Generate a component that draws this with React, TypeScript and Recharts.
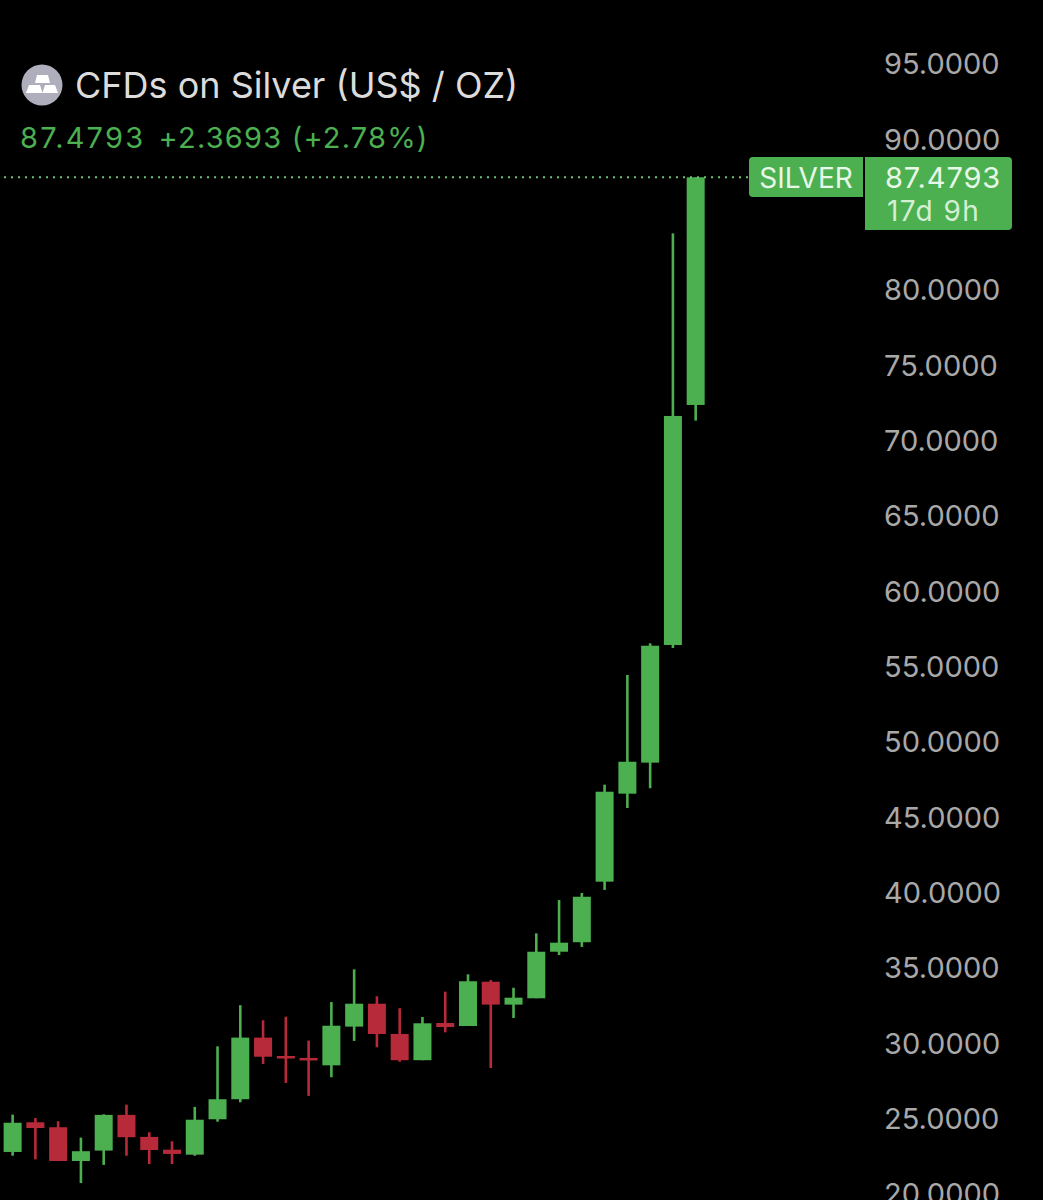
import React from "react"
import { Bar, ComposedChart, ReferenceLine, XAxis, YAxis } from "recharts"

const opens = [
  22.79, 24.76, 24.43, 22.19, 22.88, 25.25, 23.79, 22.94, 22.61, 24.96, 26.29, 30.38, 29.16, 29.03, 28.54, 31.11,
  32.63, 30.62, 28.88, 31.35, 31.15, 34.09, 32.57, 32.99, 36.08, 36.71, 40.73, 46.57, 48.63, 56.44, 72.37,
]
const closes = [
  24.73, 24.38, 22.19, 22.84, 25.25, 23.77, 22.92, 22.66, 24.93, 26.29, 30.38, 29.11, 29.09, 28.9, 31.17, 32.63,
  30.62, 28.88, 31.33, 31.08, 34.12, 32.57, 33.03, 36.08, 36.68, 39.73, 46.7, 48.69, 56.39, 71.64, 87.4793,
]
const highs = [
  25.27, 25.04, 24.83, 23.74, 25.29, 25.93, 24.1, 23.5, 25.78, 29.8, 32.53, 31.53, 31.77, 30.18, 32.74, 34.91,
  33.12, 32.33, 31.75, 33.43, 34.58, 34.2, 33.69, 37.3, 39.51, 39.98, 47.17, 54.45, 56.55, 83.76, 87.4793,
]
const lows = [
  22.54, 22.3, 22.19, 20.73, 21.93, 22.54, 21.99, 21.99, 22.54, 24.8, 26.09, 28.63, 27.37, 26.51, 27.75, 30.16,
  29.74, 28.78, 28.88, 30.73, 31.15, 28.36, 31.68, 32.99, 35.86, 36.4, 40.18, 45.62, 46.93, 56.24, 71.33,
]
const priceTicks = [20, 25, 30, 35, 40, 45, 50, 55, 60, 65, 70, 75, 80, 90, 95]
const lastPrice = 87.4793

const GREEN = "#4caf50"
const RED = "#b72a3a"

const candles = opens.map((open, i) => ({
  index: i,
  open,
  close: closes[i],
  range: [lows[i], highs[i]],
}))

const Candle = (props: any) => {
  const { x, y, width, height, payload } = props
  const [low, high] = payload.range
  const pxPerUnit = height / (high - low)
  const color = payload.close >= payload.open ? GREEN : RED
  const center = x + width / 2
  const bodyTop = y + (high - Math.max(payload.open, payload.close)) * pxPerUnit
  const bodyHeight = Math.max(Math.abs(payload.close - payload.open) * pxPerUnit, 2.5)
  return (
    <g>
      <rect x={center - 1.3} y={y} width={2.6} height={height} fill={color} />
      <rect x={x} y={bodyTop} width={width} height={bodyHeight} fill={color} />
    </g>
  )
}

const SilverIcon = () => (
  <svg width={42} height={42} style={{ position: "absolute", left: 21, top: 64 }}>
    <circle cx={21} cy={21} r={20.5} fill="#aeaebc" />
    <polygon points="16,11 27,11 29,19 14,19" fill="#fff" />
    <polygon points="8,21 19,21 21.5,29 5,29" fill="#fff" />
    <polygon points="24,21 34,21 37,29 21.5,29" fill="#fff" />
  </svg>
)

const fontFamily = "Inter, Roboto, sans-serif"

export default function App() {
  return (
    <div
      style={{
        position: "absolute",
        left: 0,
        top: 0,
        width: 1043,
        height: 1200,
        overflow: "hidden",
        background: "#000",
        fontFamily,
      }}
    >
      <ComposedChart width={1043} height={1260} data={candles} margin={{ top: 64, right: 0, bottom: 66, left: 0 }}>
        <XAxis dataKey="index" type="number" domain={[-0.571, 37.2]} allowDataOverflow hide />
        <YAxis
          orientation="right"
          width={183}
          domain={[20, 95]}
          ticks={priceTicks}
          interval={0}
          axisLine={false}
          tickLine={false}
          tickMargin={18}
          tickFormatter={(v: number) => v.toFixed(4)}
          tick={{ fill: "#a8a8a8", fontSize: 29, fontFamily }}
        />
        <ReferenceLine y={lastPrice} stroke="#6fc073" strokeWidth={2} strokeDasharray="2 5" />
        <Bar dataKey="range" barSize={18} shape={Candle} isAnimationActive={false} />
      </ComposedChart>

      <SilverIcon />
      <div style={{ position: "absolute", left: 75, top: 64, fontSize: 36, lineHeight: "42px", color: "#dcdcdc", whiteSpace: "nowrap" }}>
        CFDs on Silver (US$ / OZ)
      </div>
      <div
        style={{
          position: "absolute",
          left: 20,
          top: 120,
          fontSize: 29,
          letterSpacing: 1.2,
          lineHeight: "36px",
          color: GREEN,
          whiteSpace: "nowrap",
        }}
      >
        <span style={{ letterSpacing: 2.2, marginRight: 4 }}>87.4793</span> +2.3693 (+2.78%)
      </div>

      <div
        style={{
          position: "absolute",
          left: 749,
          top: 157,
          width: 114,
          height: 40,
          background: GREEN,
          borderRadius: "4px 0 0 4px",
          color: "#e8f8e8",
          fontSize: 28,
          lineHeight: "42px",
          textAlign: "center",
        }}
      >
        SILVER
      </div>
      <div
        style={{
          position: "absolute",
          left: 865,
          top: 157,
          width: 147,
          height: 73,
          background: GREEN,
          borderRadius: "0 4px 4px 0",
          color: "#e8f8e8",
        }}
      >
        <div style={{ position: "absolute", left: 20, top: 0, fontSize: 29, letterSpacing: 0.9, lineHeight: "42px" }}>87.4793</div>
        <div style={{ position: "absolute", left: 22, top: 35, fontSize: 28, letterSpacing: 1.4, lineHeight: "38px", color: "#d4efd5" }}>
          17d 9h
        </div>
      </div>
    </div>
  )
}
